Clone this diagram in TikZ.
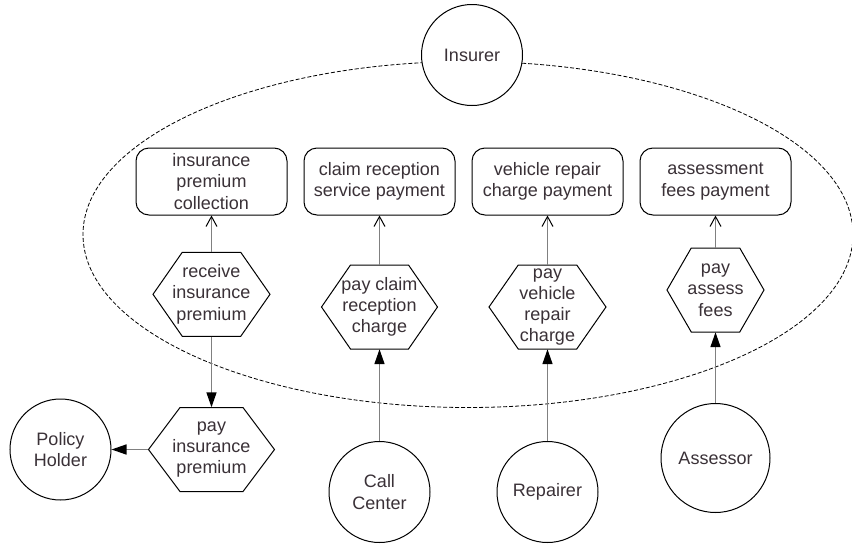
\documentclass[tikz,border=0pt]{standalone}
\usepackage{fontspec}
\setmainfont{Liberation Sans}
\usetikzlibrary{arrows.meta,calc}

\definecolor{inkcol}{RGB}{58,49,55}
\definecolor{wirecol}{RGB}{128,128,128}

\tikzset{
  every node/.style={font=\fontsize{18}{21.3}\selectfont, text=inkcol, align=center},
  actor/.style={circle, draw=black, line width=1pt, fill=white,
    minimum size=101pt, inner sep=0pt},
  account/.style={rectangle, rounded corners=13pt, draw=black, line width=1pt,
    fill=white, minimum width=151pt, minimum height=67pt, inner sep=0pt},
  hexbox/.style={rectangle, minimum height=84pt, inner sep=0pt},
  hexline/.style={draw=black, line width=1pt, fill=white, line join=miter},
  boundary/.style={draw=black, line width=0.8pt, dash pattern=on 4pt off 2pt},
  flow/.style={draw=wirecol, line width=1.5pt,
    -{Triangle[length=15pt,width=10pt,color=black]}},
  feed/.style={draw=wirecol, line width=1.5pt,
    -{Straight Barb[length=10pt,width=11pt,line width=1pt,color=black]}},
}

% value activity: white hexagon of the given width, then a named text node on it
% #1 name, #2 x, #3 y, #4 width, #5 text
\newcommand\hexnode[5]{%
  \coordinate (#1-c) at (#2,#3);
  \draw[hexline] ($(#1-c)+(-#4/2,0)$) -- ++(#4/4,-42) -- ++(#4/2,0)
    -- ++(#4/4,42) -- ++(-#4/4,42) -- ++(-#4/2,0) -- cycle;
  \node[hexbox, minimum width=#4pt] (#1) at (#1-c) {#5};
}

\begin{document}
\begin{tikzpicture}[x=1pt, y=-1pt]
  \useasboundingbox (0,0) rectangle (852,544);
  \fill[white] (0,0) rectangle (852,544);

  % company boundary
  \begin{scope}
    \clip (0,0) rectangle (852,544);
    \draw[boundary] (468,234.5) ellipse [x radius=385pt, y radius=173pt];
  \end{scope}

  % actors
  \node[actor] (ins) at (472,55) {Insurer};
  \node[actor] (ph)  at (60.5,449.5) {Policy\\Holder};
  \node[actor] (cc)  at (379.5,492) {Call\\Center};
  \node[actor] (rp)  at (547.5,492) {Repairer};
  \node[actor, minimum size=109pt] (as) at (715.5,458) {Assessor};

  % value interfaces of the insurer
  \node[account] (r1) at (211.5,181.5) {insurance\\premium\\collection};
  \node[account] (r2) at (379.5,181.5) {claim reception\\service payment};
  \node[account] (r3) at (547.5,181.5) {vehicle repair\\charge payment};
  \node[account] (r4) at (715.5,181.5) {assessment\\fees payment};

  % value activities
  \hexnode{h1}{211.5}{294.3}{117}{receive\\insurance\\premium}
  \hexnode{h2}{379.5}{307}{116}{pay claim\\reception\\charge}
  \hexnode{h3}{547.5}{307}{117}{pay\\vehicle\\repair\\charge}
  \hexnode{h4}{715.5}{290}{97}{pay\\assess\\fees}
  \hexnode{h5}{211.5}{449.5}{126}{pay\\insurance\\premium}

  % value flows
  \draw[feed] (h1) -- (r1);
  \draw[feed] (h2) -- (r2);
  \draw[feed] (h3) -- (r3);
  \draw[feed] (h4) -- (r4);

  \draw[flow] (h1) -- (h5);
  \draw[flow] (h5) -- (ph);
  \draw[flow] (cc) -- (h2);
  \draw[flow] (rp) -- (h3);
  \draw[flow] (as) -- (h4);
\end{tikzpicture}
\end{document}
